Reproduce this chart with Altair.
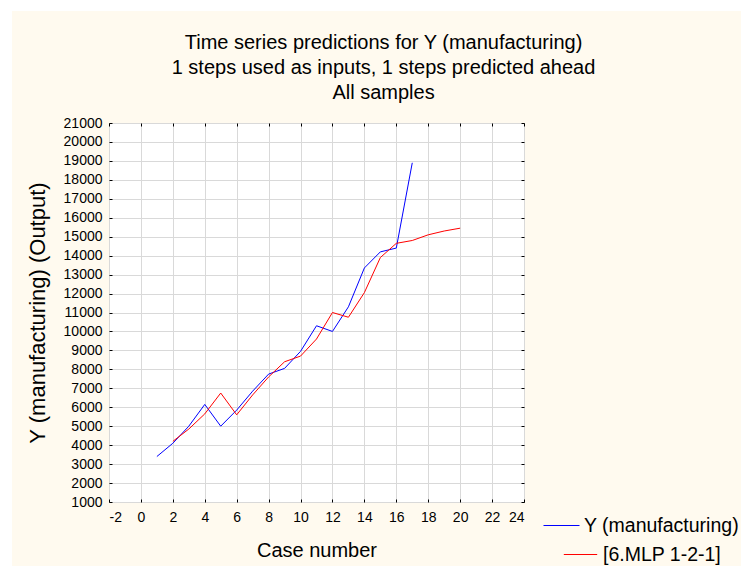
import altair as alt
import pandas as pd

# ---------------- data ----------------
case_actual = list(range(1, 18))
actual_values = [3400, 4100, 5000, 6150, 5000, 5850, 6850, 7750, 8050, 8950,
                 10300, 10000, 11300, 13350, 14200, 14400, 18900]
case_pred = list(range(2, 21))
pred_values = [4200, 4850, 5650, 6750, 5600, 6650, 7600, 8400, 8700, 9600,
               11000, 10750, 12050, 13900, 14650, 14800, 15100, 15300, 15450]
series_names = ["Y (manufacturing)", "[6.MLP 1-2-1]"]
series_colors = ["#0000ff", "#ff0000"]
x_ticks = list(range(-2, 25, 2))
y_ticks = list(range(1000, 21001, 1000))
title_lines = ["Time series predictions for Y (manufacturing)",
               "1 steps used as inputs, 1 steps predicted ahead",
               "All samples"]
x_title = "Case number"
y_title = "Y (manufacturing) (Output)"

FONT = "Liberation Sans"
W, H = 415, 379
PAD_L, PAD_T = 109, 123
PAD_R, PAD_B = 741 - PAD_L - W, 566 - PAD_T - H

df_actual = pd.DataFrame({"case": case_actual, "value": actual_values,
                          "series": series_names[0]})
df_pred = pd.DataFrame({"case": case_pred, "value": pred_values,
                        "series": series_names[1]})

x_scale = alt.Scale(domain=[x_ticks[0], x_ticks[-1]], nice=False, zero=False)
y_scale = alt.Scale(domain=[y_ticks[0], y_ticks[-1]], nice=False, zero=False)

plain_label = "'' + datum.value"

# main axes (labels, titles, grid)
x_main = alt.X("case:Q", scale=x_scale,
               axis=alt.Axis(orient="bottom", values=x_ticks, title=x_title,
                             grid=True, ticks=False, domain=False,
                             labelExpr=plain_label,
                             labelPadding=8, titlePadding=16))
y_main = alt.Y("value:Q", scale=y_scale,
               axis=alt.Axis(orient="left", values=y_ticks, title=y_title,
                             grid=True, ticks=False, domain=False,
                             labelExpr=plain_label,
                             labelPadding=7, titlePadding=14,
                             titleFontSize=22))


def tick_axis(orient, vals):
    return alt.Axis(orient=orient, values=vals, title=None, labels=False,
                    grid=False, domain=False, ticks=True, tickSize=3,
                    offset=-3, tickColor="black")


blue = alt.Chart(df_actual).mark_line(strokeWidth=1).encode(
    x=x_main,
    y=y_main,
    color=alt.Color("series:N",
                    scale=alt.Scale(domain=[series_names[0]], range=[series_colors[0]]),
                    legend=alt.Legend(orient="none", legendX=434, legendY=384,
                                      title=None, symbolType="stroke",
                                      symbolSize=1296, symbolStrokeWidth=1,
                                      labelFontSize=19.5, labelFont=FONT,
                                      labelColor="black", labelOffset=4,
                                      labelLimit=300, padding=0)),
)

red = alt.Chart(df_pred).mark_line(strokeWidth=1).encode(
    x=alt.X("case:Q", scale=x_scale, axis=tick_axis("top", x_ticks)),
    y=alt.Y("value:Q", scale=y_scale, axis=tick_axis("right", y_ticks)),
    color=alt.Color("series:N",
                    scale=alt.Scale(domain=[series_names[1]], range=[series_colors[1]]),
                    legend=alt.Legend(orient="none", legendX=454, legendY=414,
                                      title=None, symbolType="stroke",
                                      symbolSize=1115, symbolStrokeWidth=1,
                                      labelFontSize=19.5, labelFont=FONT,
                                      labelColor="black", labelOffset=5,
                                      labelLimit=300, padding=0)),
)

inner_ticks = alt.Chart(df_actual).mark_line(opacity=0).encode(
    x=alt.X("case:Q", scale=x_scale, axis=tick_axis("bottom", x_ticks)),
    y=alt.Y("value:Q", scale=y_scale, axis=tick_axis("left", y_ticks)),
)

# white page margin at the top and left of the cream panel
white_top = alt.Chart(df_actual).mark_rect(color="white").encode(
    x=alt.value(-PAD_L), x2=alt.value(W + PAD_R),
    y=alt.value(-PAD_T), y2=alt.value(-PAD_T + 11))
white_left = alt.Chart(df_actual).mark_rect(color="white").encode(
    x=alt.value(-PAD_L), x2=alt.value(-PAD_L + 12),
    y=alt.value(-PAD_T), y2=alt.value(H + PAD_B))

chart = alt.layer(white_top, white_left, inner_ticks, blue, red).resolve_scale(
    color="independent"
).resolve_axis(
    x="independent", y="independent"
).resolve_legend(
    color="independent"
).properties(
    width=W, height=H,
    autosize=alt.AutoSizeParams(type="none"),
    padding={"left": PAD_L, "top": PAD_T, "right": PAD_R, "bottom": PAD_B},
    background="#fffaef",
    title=alt.TitleParams(text=title_lines, fontSize=20, font=FONT,
                          fontWeight="normal", color="black", lineHeight=25,
                          anchor="middle", dx=67, offset=-103),
).configure_view(
    fill="white", stroke="black", strokeWidth=1
).configure_axis(
    labelFont=FONT, labelFontSize=14, labelColor="black",
    titleFont=FONT, titleFontSize=20, titleColor="black",
    titleFontWeight="normal", gridColor="#d9d9d9", gridWidth=1,
)

chart.save("out.html", embed_options={"renderer": "svg", "actions": False})
